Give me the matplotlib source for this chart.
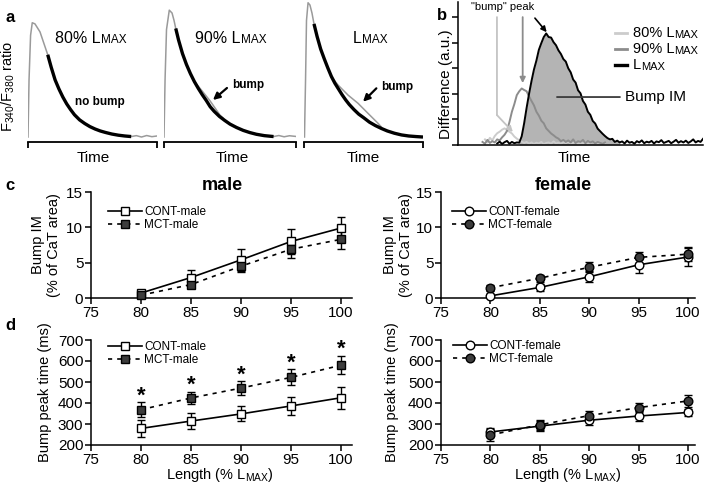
import numpy as np
import matplotlib
matplotlib.use('Agg')
import matplotlib.pyplot as plt
from matplotlib.lines import Line2D

plt.rcParams['font.family'] = ['Liberation Sans', 'DejaVu Sans']
plt.rcParams['mathtext.default'] = 'regular'
plt.rcParams['axes.linewidth'] = 1.1

# ---- panel a: example Ca transients (time in a.u., ratio normalised) ----
a1_gray_t = [0, 0.8, 2, 3.3, 5.4, 9.3, 13.2, 15.3]
a1_gray_v = [0, 0.5, 0.89, 1.0, 0.99, 0.92, 0.79, 0.72]
a1_tail_t = [80, 84, 88, 92, 96, 100]
a1_tail_v = [0.004, 0.012, 0.0, 0.013, 0.003, 0.009]
a1_fit_t = [15.3, 18, 21, 24, 27, 30, 33, 36, 40, 44, 48, 52, 56, 60, 65, 70, 75, 80]
a1_fit_v = [0.72, 0.61, 0.50, 0.42, 0.35, 0.29, 0.24, 0.195, 0.15, 0.118, 0.091,
            0.07, 0.053, 0.04, 0.026, 0.016, 0.009, 0.004]

a2_gray_t = [0, 0.8, 1.9, 4.0, 6.1, 7.6, 8.9]
a2_gray_v = [0, 0.5, 0.94, 1.11, 1.085, 1.02, 0.95]
a2_bump_t = [22.2, 25.2, 29.8, 34.8, 38.6, 42.4, 44.9]
a2_bump_v = [0.5, 0.455, 0.39, 0.318, 0.255, 0.192, 0.165]
a2_tail_t = [83, 87, 91, 95, 100]
a2_tail_v = [0.004, 0.013, 0.002, 0.011, 0.005]
a2_fit_t = [8.9, 11, 14, 17, 20, 23, 26, 29, 32, 35, 38, 42, 46, 50, 55, 60, 65, 70, 76, 83]
a2_fit_v = [0.95, 0.85, 0.73, 0.635, 0.555, 0.485, 0.425, 0.37, 0.32, 0.265, 0.225,
            0.18, 0.145, 0.113, 0.083, 0.058, 0.039, 0.024, 0.012, 0.004]

a3_gray_t = [0.4, 1.3, 2.1, 3.4, 5, 6.7, 8.4]
a3_gray_v = [0, 0.5, 1.02, 1.175, 1.155, 1.085, 0.99]
a3_bump_t = [22.9, 28.6, 37, 45.4, 53.8, 62.2, 65]
a3_bump_v = [0.528, 0.455, 0.367, 0.295, 0.207, 0.12, 0.088]
a3_fit_t = [8.4, 11, 14, 17, 20, 23, 26, 29, 32, 35, 38, 42, 46, 50, 55, 60, 65, 70,
            76, 82, 88, 94, 100]
a3_fit_v = [0.99, 0.88, 0.77, 0.685, 0.605, 0.53, 0.47, 0.42, 0.37, 0.325, 0.285,
            0.24, 0.2, 0.17, 0.13, 0.1, 0.075, 0.053, 0.033, 0.018, 0.009, 0.004, 0.0]

# ---- panel b: difference traces ----
b_lmax_t = np.arange(16, 101)
b_lmax_v = [0.06, 0.13, 0.04, 0.11, 0.16, 0.05, 0.12, 0.07, 0.1, 0.09,
            0.34, 0.85, 1.45, 2.0, 2.5, 2.95, 3.3, 3.72, 3.98, 4.22,
            4.36, 4.22, 4.2, 4.02, 3.9, 3.7, 3.56, 3.36, 3.26, 3.0,
            2.84, 2.56, 2.44, 2.14, 2.02, 1.72, 1.58, 1.3, 1.18, 0.94,
            0.84, 0.64, 0.54, 0.44, 0.35, 0.27, 0.22, 0.24, 0.12, 0.17,
            0.1, 0.14, 0.06, 0.17, 0.09, 0.12, 0.05, 0.15, 0.1, 0.18,
            0.07, 0.13, 0.1, 0.16, 0.06, 0.14, 0.11, 0.19, 0.08, 0.12,
            0.16, 0.07, 0.13, 0.2, 0.09, 0.15, 0.1, 0.17, 0.08, 0.14,
            0.22, 0.1, 0.16, 0.12, 0.24]
b_90_t = np.arange(10, 61)
b_90_v = [0.12, 0.05, 0.2, 0.08, 0.15, 0.1, 0.22, 0.18, 0.3, 0.4,
          0.55, 0.9, 1.3, 1.6, 1.95, 2.1, 2.21, 2.15, 2.1, 1.9,
          1.72, 1.55, 1.3, 1.15, 0.95, 0.85, 0.65, 0.55, 0.45, 0.38,
          0.3, 0.25, 0.15, 0.2, 0.12, 0.18, 0.1, 0.22, 0.08, 0.15,
          0.12, 0.2, 0.07, 0.16, 0.1, 0.14, 0.06, 0.12, 0.09, 0.05, 0.1]
b_80_t = np.arange(11, 61)
b_80_v = [0.22, 0.1, 0.28, 0.18, 0.35, 0.46, 0.52, 0.6, 0.65, 0.58,
          0.52, 0.45, 0.33, 0.25, 0.18, 0.13, 0.08, 0.12, 0.05, 0.1,
          0.04, 0.09, 0.06, 0.12, 0.03, 0.08, 0.1, 0.05, 0.14, 0.06,
          0.09, 0.04, 0.11, 0.07, 0.13, 0.05, 0.08, 0.12, 0.04, 0.09,
          0.06, 0.1, 0.05, 0.08, 0.12, 0.04, 0.07, 0.1, 0.05, 0.08]

# ---- panels c, d: group data ----
length = [80, 85, 90, 95, 100]
im_cont_m = [0.7, 2.9, 5.4, 8.0, 9.9]
im_cont_m_err = [0.3, 1.0, 1.6, 1.8, 1.5]
im_mct_m = [0.4, 1.9, 4.5, 6.9, 8.3]
im_mct_m_err = [0.2, 0.5, 0.8, 1.3, 1.4]
im_cont_f = [0.3, 1.5, 3.0, 4.7, 5.8]
im_cont_f_err = [0.2, 0.5, 0.8, 1.2, 1.3]
im_mct_f = [1.45, 2.8, 4.35, 5.75, 6.2]
im_mct_f_err = [0.4, 0.5, 0.7, 0.8, 1.0]

pt_cont_m = [279, 314, 348, 386, 425]
pt_cont_m_err = [40, 38, 36, 42, 52]
pt_mct_m = [368, 424, 471, 522, 580]
pt_mct_m_err = [35, 30, 33, 38, 44]
pt_cont_f = [262, 290, 318, 338, 355]
pt_cont_f_err = [20, 22, 25, 22, 18]
pt_mct_f = [248, 296, 340, 378, 410]
pt_mct_f_err = [30, 25, 22, 22, 28]
sig_male = [True, True, True, True, True]

W, H = 709, 484
fig = plt.figure(figsize=(W / 100, H / 100), dpi=100)


def px_axes(l, t, r, b):
    return fig.add_axes([l / W, 1 - b / H, (r - l) / W, (b - t) / H])


def lmax_text(ax, x, y, prefix, size, small, **kw):
    t = ax.text(x, y, prefix + 'L', fontsize=size, va='baseline', **kw)
    ax.annotate('MAX', xy=(1, 0), xycoords=t, fontsize=small, va='bottom', ha='left')
    return t


GRAY = '#9a9a9a'

# ---------------- panel a ----------------
a_axes = [px_axes(28, 0, 157, 141.7), px_axes(164, 0, 296, 141.7), px_axes(304, 0, 423, 141.7)]
for ax in a_axes:
    ax.set_xlim(0, 100)
    ax.set_ylim(-0.041, 1.199)
    for s in ['top', 'right', 'left']:
        ax.spines[s].set_visible(False)
    ax.spines['bottom'].set_linewidth(1.3)
    ax.set_xticks([0, 100])
    ax.set_xticklabels([])
    ax.set_yticks([])
    ax.tick_params(axis='x', direction='out', length=4, width=1.3)
    ax.patch.set_alpha(0)

ax = a_axes[0]
ax.plot(a1_gray_t, a1_gray_v, color=GRAY, lw=1.1)
ax.plot(a1_tail_t, a1_tail_v, color=GRAY, lw=1.1)
ax.plot(a1_fit_t, a1_fit_v, color='k', lw=2.4, solid_capstyle='butt')
lmax_text(ax, 20.9, 0.82, '80% ', 11.5, 8.5)
ax.text(36.4, 0.306, 'no bump', fontsize=8.5, fontweight='bold', va='center')
ax.text(0.504, -0.115, 'Time', transform=ax.transAxes, ha='center', va='center', fontsize=11)

ax = a_axes[1]
ax.plot(a2_gray_t, a2_gray_v, color=GRAY, lw=1.1)
ax.plot(a2_bump_t, a2_bump_v, color=GRAY, lw=1.1)
ax.plot(a2_tail_t, a2_tail_v, color=GRAY, lw=1.1)
ax.plot(a2_fit_t, a2_fit_v, color='k', lw=2.4, solid_capstyle='butt')
lmax_text(ax, 23.5, 0.82, '90% ', 11.5, 8.5)
ax.text(51.5, 0.455, 'bump', fontsize=8.5, fontweight='bold', va='center')
ax.annotate('', xy=(37.1, 0.324), xytext=(47.7, 0.429),
            arrowprops=dict(arrowstyle='-|>', color='k', lw=1.6, mutation_scale=10,
                            shrinkA=0, shrinkB=0))
ax.text(0.515, -0.115, 'Time', transform=ax.transAxes, ha='center', va='center', fontsize=11)

ax = a_axes[2]
ax.plot(a3_gray_t, a3_gray_v, color=GRAY, lw=1.1)
ax.plot(a3_bump_t, a3_bump_v, color=GRAY, lw=1.1)
ax.plot(a3_fit_t, a3_fit_v, color='k', lw=2.4, solid_capstyle='butt')
lmax_text(ax, 41.2, 0.825, '', 11.5, 8.5)
ax.text(64.7, 0.435, 'bump', fontsize=8.5, fontweight='bold', va='center')
ax.annotate('', xy=(49.6, 0.309), xytext=(60.8, 0.426),
            arrowprops=dict(arrowstyle='-|>', color='k', lw=1.6, mutation_scale=10,
                            shrinkA=0, shrinkB=0))
ax.text(0.5, -0.115, 'Time', transform=ax.transAxes, ha='center', va='center', fontsize=11)

fig.text(8 / W, 1 - 86 / H, r'F$_{340}$/F$_{380}$ ratio', rotation=90,
         ha='center', va='center', fontsize=10.5)

# ---------------- panel b ----------------
axb = px_axes(458, 2, 703, 145)
axb.set_xlim(0, 100)
axb.set_ylim(0, 5.59)
for s in ['top', 'right']:
    axb.spines[s].set_visible(False)
axb.set_yticks(range(6))
axb.set_yticklabels([])
axb.set_xticks([])
axb.tick_params(axis='y', direction='out', length=4, width=1.1)

b_lmax_arr = np.array(b_lmax_v)
axb.fill_between(b_lmax_t, b_lmax_arr, 0, where=(b_lmax_t >= 25) & (b_lmax_t <= 66),
                 color='#b4b4b4', lw=0)
axb.plot(b_80_t, b_80_v, color='#cccccc', lw=1.4)
axb.plot(b_90_t, b_90_v, color='#8c8c8c', lw=1.4)
axb.plot(b_lmax_t, b_lmax_v, color='k', lw=1.4)

axb.annotate('', xy=(15.9, 1.17), xytext=(15.9, 5.0),
             arrowprops=dict(arrowstyle='-', color='#c4c4c4', lw=1.3, shrinkA=0, shrinkB=0),
             annotation_clip=False)
axb.annotate('', xy=(22.4, 0.51), xytext=(15.9, 1.17),
             arrowprops=dict(arrowstyle='-|>', color='#c4c4c4', lw=1.3, mutation_scale=8,
                             shrinkA=0, shrinkB=0))
axb.annotate('', xy=(26.4, 2.42), xytext=(26.4, 5.0),
             arrowprops=dict(arrowstyle='-|>', color='#8c8c8c', lw=1.3, mutation_scale=8,
                             shrinkA=0, shrinkB=0), annotation_clip=False)
axb.annotate('', xy=(36.2, 4.41), xytext=(31.4, 4.96),
             arrowprops=dict(arrowstyle='-|>', color='k', lw=1.2, mutation_scale=8,
                             shrinkA=0, shrinkB=0), annotation_clip=False)
axb.text(18.4, 5.38, '"bump" peak', fontsize=8, ha='center', va='center', clip_on=False)
axb.annotate('', xy=(66.1, 1.875), xytext=(40.4, 1.875),
             arrowprops=dict(arrowstyle='-', color='#3a3a3a', lw=1.3, shrinkA=0, shrinkB=0))
axb.text(68.2, 1.875, 'Bump IM', fontsize=11, va='center')

for yy, col, lab, lw in [(0.783, '#cccccc', '80% ', 2.0), (0.671, '#8c8c8c', '90% ', 2.0),
                         (0.559, 'k', '', 2.4)]:
    axb.add_line(Line2D([0.64, 0.69], [yy, yy], color=col, lw=lw, transform=axb.transAxes))
    t = axb.text(0.714, yy, lab + 'L', fontsize=10.5, va='center', transform=axb.transAxes)
    axb.annotate('MAX', xy=(1, 0), xycoords=t, fontsize=8, va='bottom', ha='left')

axb.text(0.473, -0.091, 'Time', transform=axb.transAxes, ha='center', va='center', fontsize=11)
fig.text(446 / W, 1 - 84 / H, 'Difference (a.u.)', rotation=90, ha='center', va='center',
         fontsize=11)

# ---------------- panels c, d ----------------
def style_axes(ax, ylim, yticks, xmax):
    ax.set_xlim(75, xmax)
    ax.set_ylim(*ylim)
    ax.set_xticks([75, 80, 85, 90, 95, 100])
    ax.set_yticks(yticks)
    for s in ['top', 'right']:
        ax.spines[s].set_visible(False)
    ax.tick_params(direction='out', length=4, width=1.1, labelsize=11, pad=1.5)


def group_plot(ax, yc, ec, ym, em, marker, ms, lab_c, lab_m, leg_xy):
    ax.errorbar(length, yc, yerr=ec, fmt='none', ecolor='k', elinewidth=1.0,
                capsize=3, capthick=1.0, zorder=2)
    ax.errorbar(length, ym, yerr=em, fmt='none', ecolor='k', elinewidth=1.0,
                capsize=3, capthick=1.0, zorder=2)
    ax.plot(length, yc, '-', color='k', lw=1.2, marker=marker, ms=ms, mfc='white',
            mec='k', mew=1.0, label=lab_c, zorder=3, clip_on=False)
    ax.plot(length, ym, linestyle=(0, (2.5, 3)), color='k', lw=1.2, marker=marker, ms=ms,
            mfc='#3c3c3c', mec='k', mew=1.0, label=lab_m, zorder=4, clip_on=False)
    ax.legend(loc='upper left', bbox_to_anchor=leg_xy, frameon=False, fontsize=8.5,
              handlelength=2.9, handletextpad=0.15, labelspacing=0.12,
              borderpad=0, borderaxespad=0)


ax_cm = px_axes(91, 192, 352, 298)
style_axes(ax_cm, (0, 15), [0, 5, 10, 15], 101.1)
group_plot(ax_cm, im_cont_m, im_cont_m_err, im_mct_m, im_mct_m_err, 's', 5.8,
           'CONT-male', 'MCT-male', (0.065, 0.87))
ax_cm.text(0.502, 1.066, 'male', transform=ax_cm.transAxes, ha='center', va='center',
           fontsize=13, fontweight='bold')
ax_cm.text(-0.172, 0.5, 'Bump IM\n(% of CaT area)', transform=ax_cm.transAxes, rotation=90,
           ha='center', va='center', fontsize=10.5, multialignment='center')

ax_cf = px_axes(441, 192, 695, 298)
style_axes(ax_cf, (0, 15), [0, 5, 10, 15], 100.7)
group_plot(ax_cf, im_cont_f, im_cont_f_err, im_mct_f, im_mct_f_err, 'o', 6.2,
           'CONT-female', 'MCT-female', (0.043, 0.87))
ax_cf.text(0.48, 1.066, 'female', transform=ax_cf.transAxes, ha='center', va='center',
           fontsize=13, fontweight='bold')
ax_cf.text(-0.169, 0.5, 'Bump IM\n(% of CaT area)', transform=ax_cf.transAxes, rotation=90,
           ha='center', va='center', fontsize=10.5, multialignment='center')

ax_dm = px_axes(91, 340, 352, 445)
style_axes(ax_dm, (200, 700), range(200, 701, 100), 101.1)
group_plot(ax_dm, pt_cont_m, pt_cont_m_err, pt_mct_m, pt_mct_m_err, 's', 5.8,
           'CONT-male', 'MCT-male', (0.065, 0.99))
for x, y, e, s in zip(length, pt_mct_m, pt_mct_m_err, sig_male):
    if s:
        ax_dm.text(x, y + e + 30, '*', ha='center', va='center', fontsize=16,
                   fontweight='bold', clip_on=False)
ax_dm.text(-0.176, 0.5, 'Bump peak time (ms)', transform=ax_dm.transAxes, rotation=90,
           ha='center', va='center', fontsize=10.5)
ax_dm.text(0.494, -0.29, r'Length (% L$_{MAX}$)', transform=ax_dm.transAxes,
           ha='center', va='center', fontsize=10.5)

ax_df = px_axes(441, 340, 695, 445)
style_axes(ax_df, (200, 700), range(200, 701, 100), 100.7)
group_plot(ax_df, pt_cont_f, pt_cont_f_err, pt_mct_f, pt_mct_f_err, 'o', 6.2,
           'CONT-female', 'MCT-female', (0.047, 1.0))
ax_df.text(-0.193, 0.5, 'Bump peak time (ms)', transform=ax_df.transAxes, rotation=90,
           ha='center', va='center', fontsize=10.5)
ax_df.text(0.5, -0.29, r'Length (% L$_{MAX}$)', transform=ax_df.transAxes,
           ha='center', va='center', fontsize=10.5)

# panel letters
for lab, x, y in [('a', 10, 18), ('b', 442, 15), ('c', 10, 185), ('d', 10, 325)]:
    fig.text(x / W, 1 - y / H, lab, fontsize=12, fontweight='bold', ha='center', va='center')

fig.savefig('out.png', dpi=100)
